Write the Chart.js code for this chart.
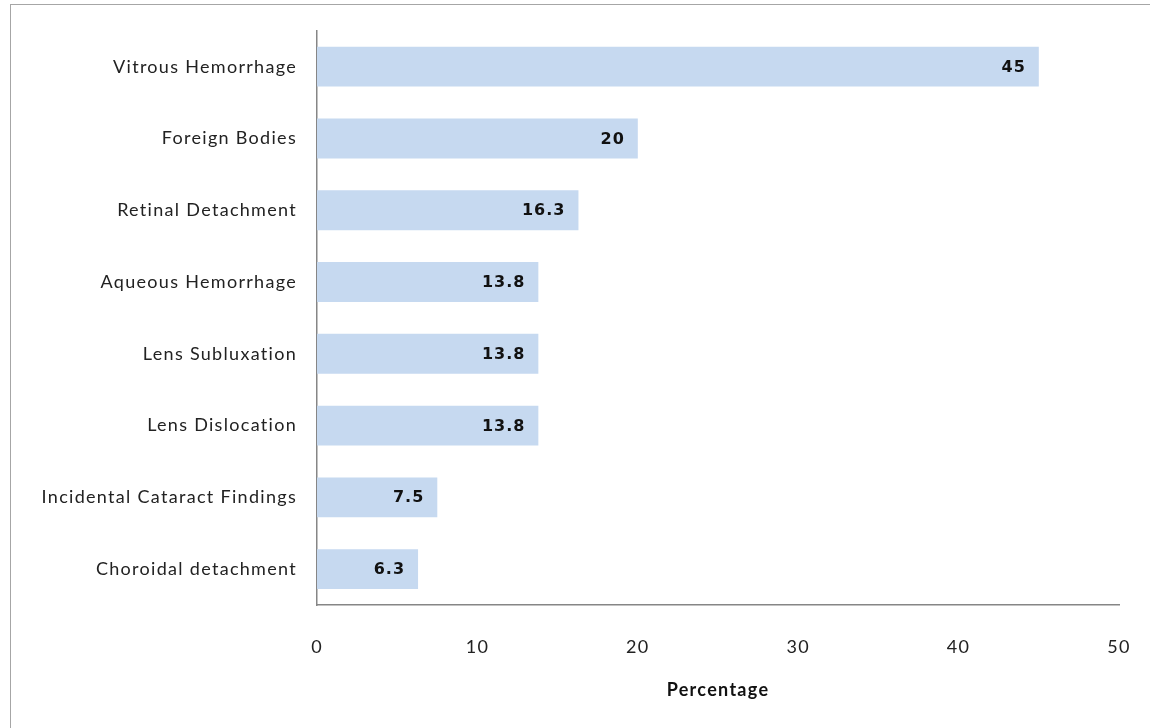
<!DOCTYPE html>
<html>
<head>
<meta charset="utf-8">
<script src="https://cdn.jsdelivr.net/npm/chart.js@4"></script>
<style>
  html, body { margin: 0; padding: 0; background: #fff; }
  #wrap { position: relative; width: 1150px; height: 728px; overflow: hidden; }
  #frame { position: absolute; left: 10px; top: 4px; width: 1200px; height: 800px;
           border-left: 1px solid #a6a6a6; border-top: 1px solid #a6a6a6; }
  canvas { position: absolute; left: 0; top: 0; }
</style>
</head>
<body>
<div id="wrap">
  <div id="frame"></div>
  <canvas id="FindingsChart" width="1150" height="728"></canvas>
</div>
<script>
// categories, top to bottom
const categories = [
    'Vitrous Hemorrhage',
    'Foreign Bodies',
    'Retinal Detachment',
    'Aqueous Hemorrhage',
    'Lens Subluxation',
    'Lens Dislocation',
    'Incidental Cataract Findings',
    'Choroidal detachment'
];
const percentages = [45, 20, 16.3, 13.8, 13.8, 13.8, 7.5, 6.3];
const xTicks = [0, 10, 20, 30, 40, 50];

// the reference text is a bit spaced out
const spacing = {
    id: 'spacing',
    beforeLayout(chart) { chart.ctx.letterSpacing = '1.3px'; },
    beforeDraw(chart) { chart.ctx.letterSpacing = '1.3px'; }
};

// draw the value near the end of each bar
const valueLabels = {
    id: 'valueLabels',
    afterDatasetsDraw(chart) {
        const ctx = chart.ctx;
        const meta = chart.getDatasetMeta(0);
        ctx.save();
        ctx.letterSpacing = '1px';
        ctx.font = 'bold 16px "DejaVu Sans"';
        ctx.fillStyle = '#111';
        ctx.textAlign = 'right';
        ctx.textBaseline = 'middle';
        meta.data.forEach((bar, i) => {
            ctx.fillText(String(percentages[i]), bar.x - 13, bar.y + 1);
        });
        ctx.restore();
    }
};

let ctx = document.getElementById('FindingsChart');

const config = {
    type: 'bar',
    data: {
        labels: categories,
        datasets: [{
            data: percentages,
            backgroundColor: '#c6d9f0',
            borderWidth: 0,
            barPercentage: 0.555,
            categoryPercentage: 1
        }]
    },
    options: {
        indexAxis: 'y',
        responsive: false,
        animation: false,
        layout: { padding: { top: 28, right: 31, bottom: 0, left: 0 } },
        plugins: {
            legend: { display: false },
            tooltip: { enabled: false }
        },
        scales: {
            x: {
                min: 0,
                max: 50,
                afterBuildTicks(axis) { axis.ticks = xTicks.map(v => ({ value: v })); },
                afterFit(axis) {
                    axis.height = 123;
                    axis.paddingLeft = 0;
                    axis.paddingRight = 0;
                },
                grid: { display: false, drawTicks: false },
                border: { display: true, color: '#868686', width: 1.5 },
                ticks: {
                    padding: 31,
                    color: '#222',
                    font: { family: 'Lato', size: 18 }
                },
                title: {
                    display: true,
                    text: 'Percentage',
                    color: '#111',
                    font: { family: 'Lato', size: 18, weight: 'bold' },
                    padding: { top: 0, bottom: 27 }
                }
            },
            y: {
                afterFit(axis) { axis.width = 317; },
                grid: { display: false, drawTicks: false },
                border: { display: true, color: '#868686', width: 1.5 },
                ticks: {
                    padding: 20,
                    color: '#222',
                    font: { family: 'Lato', size: 18 }
                }
            }
        }
    },
    plugins: [spacing, valueLabels]
};

const chart = new Chart(ctx, config);
</script>
</body>
</html>
